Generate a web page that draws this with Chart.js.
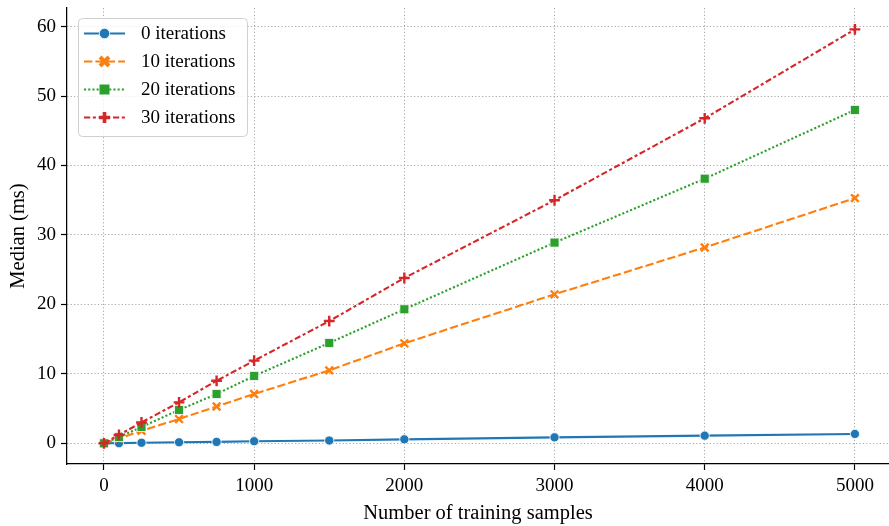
<!DOCTYPE html>
<html>
<head>
<meta charset="utf-8">
<script src="https://cdn.jsdelivr.net/npm/chart.js@4.4.0/dist/chart.umd.min.js"></script>
<style>
  html, body { margin: 0; padding: 0; background: #fff; }
  #wrap { width: 889px; height: 526px; }
</style>
</head>
<body>
<div id="wrap"><canvas id="chart" width="889" height="526"></canvas></div>
<script>
// training set sizes (x) and median time in ms for each iteration count
const samples = [0, 100, 250, 500, 750, 1000, 1500, 2000, 3000, 4000, 5000];
const iter0  = [0, 0.02, 0.08, 0.15, 0.2, 0.3, 0.4, 0.57, 0.86, 1.1, 1.35];
const iter10 = [0, 0.7, 1.8, 3.5, 5.3, 7.1, 10.5, 14.4, 21.45, 28.2, 35.3];
const iter20 = [0, 0.9, 2.35, 4.8, 7.1, 9.7, 14.45, 19.3, 28.9, 38.1, 48.0];
const iter30 = [0, 1.2, 3.0, 5.9, 9.0, 11.9, 17.6, 23.8, 35.0, 46.8, 59.6];
const seriesNames = ["0 iterations", "10 iterations", "20 iterations", "30 iterations"];
const xTicks = [0, 1000, 2000, 3000, 4000, 5000];
const yTicks = [0, 10, 20, 30, 40, 50, 60];

const FONT = "'Liberation Serif', 'Times New Roman', serif";
const toPoints = ys => samples.map((x, i) => ({ x: x, y: ys[i] }));

const styles = [
    { color: "#1f77b4", dash: [], marker: "circle", radius: 4.6, bw: 0.8, edge: "#ffffff" },
    { color: "#ff7f0e", dash: [8.3, 3.1], marker: "crossRot", radius: 5.4, bw: 2.4, edge: null },
    { color: "#2ca02c", dash: [2.1, 2.1], marker: "rect", radius: 6.4, bw: 0.8, edge: "#ffffff" },
    { color: "#d62728", dash: [6.2, 2.6, 3.1, 2.6], marker: "cross", radius: 5.4, bw: 2.4, edge: null }
];
const allSeries = [iter0, iter10, iter20, iter30];

const datasets = allSeries.map((ys, i) => {
    const s = styles[i];
    return {
        label: seriesNames[i],
        data: toPoints(ys),
        borderColor: s.color,
        backgroundColor: s.color,
        borderWidth: 2.1,
        borderDash: s.dash,
        pointStyle: s.marker,
        pointRadius: s.radius,
        pointBackgroundColor: s.color,
        pointBorderColor: s.edge || s.color,
        pointBorderWidth: s.bw,
        tension: 0,
        fill: false,
        clip: false,
        order: 4 - i
    };
});

// matplotlib-style legend box, drawn by hand
const legendBox = {
    id: "legendBox",
    afterDraw(chart) {
        const ctx = chart.ctx;
        const x0 = 78, y0 = 18, w = 169, h = 118;
        ctx.save();
        ctx.beginPath();
        ctx.roundRect(x0 + 0.5, y0 + 0.5, w, h, 4);
        ctx.fillStyle = "rgba(255,255,255,0.8)";
        ctx.fill();
        ctx.strokeStyle = "#d0d0d0";
        ctx.lineWidth = 1;
        ctx.stroke();

        const rows = [33.5, 61.5, 89.5, 117.5];
        chart.data.datasets.forEach((ds, i) => {
            const y = rows[i];
            const s = styles[i];
            ctx.beginPath();
            ctx.setLineDash(s.dash);
            ctx.strokeStyle = s.color;
            ctx.lineWidth = 2.1;
            ctx.moveTo(84, y);
            ctx.lineTo(125, y);
            ctx.stroke();
            ctx.setLineDash([]);
            drawMarker(ctx, s.marker, 104.5, y, s.color);

            ctx.fillStyle = "#000";
            ctx.font = "19px " + FONT;
            ctx.textBaseline = "middle";
            ctx.textAlign = "left";
            ctx.fillText(ds.label, 141, y + 1);
        });
        ctx.restore();
    }
};

function drawMarker(ctx, kind, x, y, color) {
    ctx.fillStyle = color;
    ctx.strokeStyle = color;
    ctx.beginPath();
    if (kind === "circle") {
        ctx.arc(x, y, 5.2, 0, Math.PI * 2);
        ctx.fill();
        ctx.strokeStyle = "#fff";
        ctx.lineWidth = 0.8;
        ctx.stroke();
    } else if (kind === "rect") {
        ctx.rect(x - 5, y - 5, 10, 10);
        ctx.fill();
    } else if (kind === "crossRot") {
        ctx.lineWidth = 4;
        ctx.lineCap = "butt";
        ctx.moveTo(x - 4.5, y - 4.5); ctx.lineTo(x + 4.5, y + 4.5);
        ctx.moveTo(x + 4.5, y - 4.5); ctx.lineTo(x - 4.5, y + 4.5);
        ctx.stroke();
    } else {
        ctx.lineWidth = 3.6;
        ctx.moveTo(x - 5.5, y); ctx.lineTo(x + 5.5, y);
        ctx.moveTo(x, y - 5.5); ctx.lineTo(x, y + 5.5);
        ctx.stroke();
    }
}

const gridStyle = {
    color: "#a8a8a8",
    lineWidth: 1,
    drawTicks: true,
    tickLength: 6,
    tickColor: "#000",
    tickWidth: 1.2,
    tickBorderDash: []
};

new Chart(document.getElementById("chart"), {
    type: "line",
    data: { datasets: datasets },
    plugins: [legendBox],
    options: {
        responsive: false,
        animation: false,
        layout: { autoPadding: false, padding: { top: 8, right: 0, left: 0, bottom: 0 } },
        plugins: {
            legend: { display: false },
            tooltip: { enabled: false }
        },
        scales: {
            x: {
                type: "linear",
                min: -246,
                max: 5227,
                afterBuildTicks: sc => { sc.ticks = xTicks.map(v => ({ value: v })); },
                afterFit: sc => { sc.height = 62; sc.paddingLeft = 0; sc.paddingRight = 0; },
                grid: gridStyle,
                border: { display: true, color: "#000", width: 1.25, dash: [1.2, 2.2] },
                ticks: {
                    color: "#000",
                    padding: 5,
                    maxRotation: 0,
                    callback: v => String(v),
                    font: { family: FONT, size: 19 }
                },
                title: {
                    display: true,
                    text: "Number of training samples",
                    color: "#000",
                    padding: { top: 0, bottom: 0 },
                    font: { family: FONT, size: 20.5 }
                }
            },
            y: {
                type: "linear",
                min: -2.98,
                max: 62.68,
                afterBuildTicks: sc => { sc.ticks = yTicks.map(v => ({ value: v })); },
                afterFit: sc => { sc.width = 67; sc.paddingTop = 0; sc.paddingBottom = 0; },
                grid: gridStyle,
                border: { display: true, color: "#000", width: 1.25, dash: [1.2, 2.2] },
                ticks: {
                    color: "#000",
                    padding: 5,
                    callback: v => String(v),
                    font: { family: FONT, size: 19 }
                },
                title: {
                    display: true,
                    text: "Median (ms)",
                    color: "#000",
                    padding: { top: 6, bottom: 0 },
                    font: { family: FONT, size: 20.5 }
                }
            }
        }
    }
});
</script>
</body>
</html>
